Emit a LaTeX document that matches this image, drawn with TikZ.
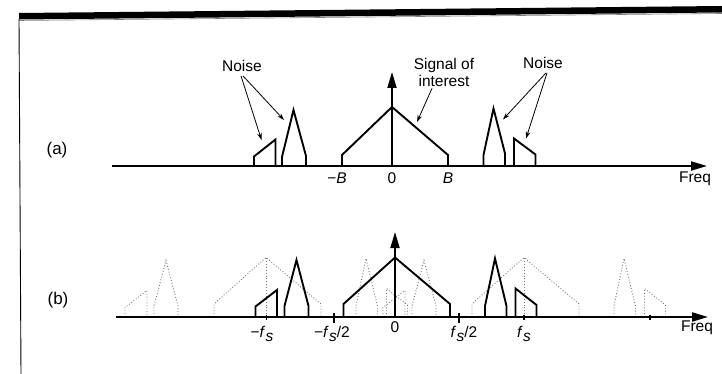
\documentclass[tikz,border=0pt]{standalone}
\usepackage{fontspec}
\setmainfont{Liberation Sans}
\usetikzlibrary{arrows.meta}
\newcommand{\fsym}{\textit{f}\kern0.3pt\raisebox{-3.5pt}{\textit{s}}}
\tikzset{
  lbl/.style={inner sep=0pt, font=\fontsize{15.5}{17}\selectfont},
  plbl/.style={inner sep=0pt, font=\fontsize{17}{19}\selectfont},
  axisline/.style={line width=2pt, -{Triangle[length=16pt,width=9pt]}},
  spec/.style={line width=1.9pt, line join=miter},
  ghost/.style={line width=0.9pt, black!55, dotted},
  note/.style={line width=0.8pt, -{Stealth[length=7pt,width=4.5pt]}},
  tick/.style={line width=1.6pt}
}
\begin{document}
\begin{tikzpicture}[x=1pt,y=-1pt]
\useasboundingbox (0,0) rectangle (722,374);
% frame
\fill (19,13) -- (722,6) -- (722,12.5) -- (19,19.5) -- cycle;
\draw[gray, line width=0.6pt] (19,20.5) -- (722,13.5);
\draw[line width=0.9pt] (19,19) -- (21,374);

% ---------------- panel (a) ----------------
\node[plbl] (la) at (57,150) {(a)};
\coordinate (a0) at (112,166);
\coordinate (a1) at (707,166);
\draw[axisline] (a0) -- (a1);
\node[lbl] (fqa) at (695,179) {Freq};
% signal of interest
\draw[spec] (342,166) -- (342,155) -- (392,107) -- (448,155) -- (448,166);
\coordinate (sa0) at (392,166);
\coordinate (sa1) at (392,72);
\draw[line width=1.9pt, -{Triangle[length=16pt,width=9pt]}] (sa0) -- (sa1);
% left noise
\draw[spec] (254,166) -- (254,156.5) -- (275.5,139.5) -- (275.5,166);
\draw[spec] (282,166) -- (282,157) -- (293.5,110) -- (306,156) -- (306,166);
% right noise
\draw[spec] (483.5,166) -- (483.5,155) -- (493.5,108.5) -- (505,153.5) -- (505,166);
\draw[spec] (514,166) -- (514,138.5) -- (535.5,154.5) -- (535.5,166);
% axis labels
\node[lbl] (mB) at (337,178) {−\textit{B}};
\node[lbl] (zA) at (392,178) {0};
\node[lbl] (pB) at (448,178) {\textit{B}};
% annotations
\node[lbl] (nl) at (242,66) {Noise};
\node[lbl, align=center, font=\fontsize{15.5}{17}\selectfont] (sig) at (444,72) {Signal of\\interest};
\node[lbl] (nr) at (543,63) {Noise};
\coordinate (nlt1) at (261.5,140);
\coordinate (nlt2) at (284,120);
\coordinate (sigt) at (417,122);
\coordinate (nrt1) at (503,119.5);
\coordinate (nrt2) at (526,138.5);
\draw[note] (nl.south) ++(-1,4) -- (nlt1);
\draw[note] (nl.south) ++(1,4) -- (nlt2);
\draw[note] (sig.south) ++(-12,2) -- (sigt);
\draw[note] (nr.south) ++(3,4) -- (nrt1);
\draw[note] (nr.south) ++(4,4) -- (nrt2);

% ---------------- panel (b) ----------------
\node[plbl] (lb) at (58,300) {(b)};
\coordinate (b0) at (116,317);
\coordinate (b1) at (708,317);
% ghost replicas (shifted by -fs and +fs)
\foreach \s in {-129,129}{
  \begin{scope}[xshift=\s pt]
    \draw[ghost] (343,317) -- (343,304) -- (395,257.5) -- (450,304) -- (450,317);
    \draw[ghost] (395,317) -- (395,257.5);
    \draw[ghost] (254,317) -- (254,307.5) -- (276,290.5) -- (276,317);
    \draw[ghost] (283,317) -- (283,306) -- (295,260.5) -- (307,306) -- (307,317);
    \draw[ghost] (485,317) -- (485,306) -- (495,258.5) -- (506.5,306) -- (506.5,317);
    \draw[ghost] (515.5,317) -- (515.5,288.5) -- (536.5,305) -- (536.5,317);
  \end{scope}
}
\draw[axisline] (b0) -- (b1);
\node[lbl] (fqb) at (697,328) {Freq};
% baseband
\draw[spec] (343.5,317) -- (343.5,304) -- (395,257.5) -- (450,304) -- (450,317);
\coordinate (sb0) at (395,317);
\coordinate (sb1) at (395,232);
\draw[line width=1.9pt, -{Triangle[length=16pt,width=9pt]}] (sb0) -- (sb1);
\draw[spec] (255.5,317) -- (255.5,306.5) -- (277,290) -- (277,317);
\draw[spec] (284.5,317) -- (284.5,306) -- (296.5,260) -- (308.5,306) -- (308.5,317);
\draw[spec] (485,317) -- (485,306) -- (495,258.5) -- (506.5,306) -- (506.5,317);
\draw[spec] (515.5,317) -- (515.5,288.5) -- (536.5,305) -- (536.5,317);
% ticks
\draw[tick] (334,313) -- (334,323);
\draw[tick] (459,313) -- (459,323);
\draw[tick] (266.5,315) -- (266.5,320);
\draw[tick] (524,315) -- (524,320);
\draw[tick] (650,315) -- (650,320);
% labels
\node[lbl] (mfs) at (262,334) {−\fsym};
\node[lbl] (mfs2) at (332,334) {−\fsym/2};
\node[lbl] (zB) at (395,327) {0};
\node[lbl] (pfs2) at (464,334) {\fsym/2};
\node[lbl] (pfs) at (524,334) {\fsym};
\end{tikzpicture}
\end{document}
